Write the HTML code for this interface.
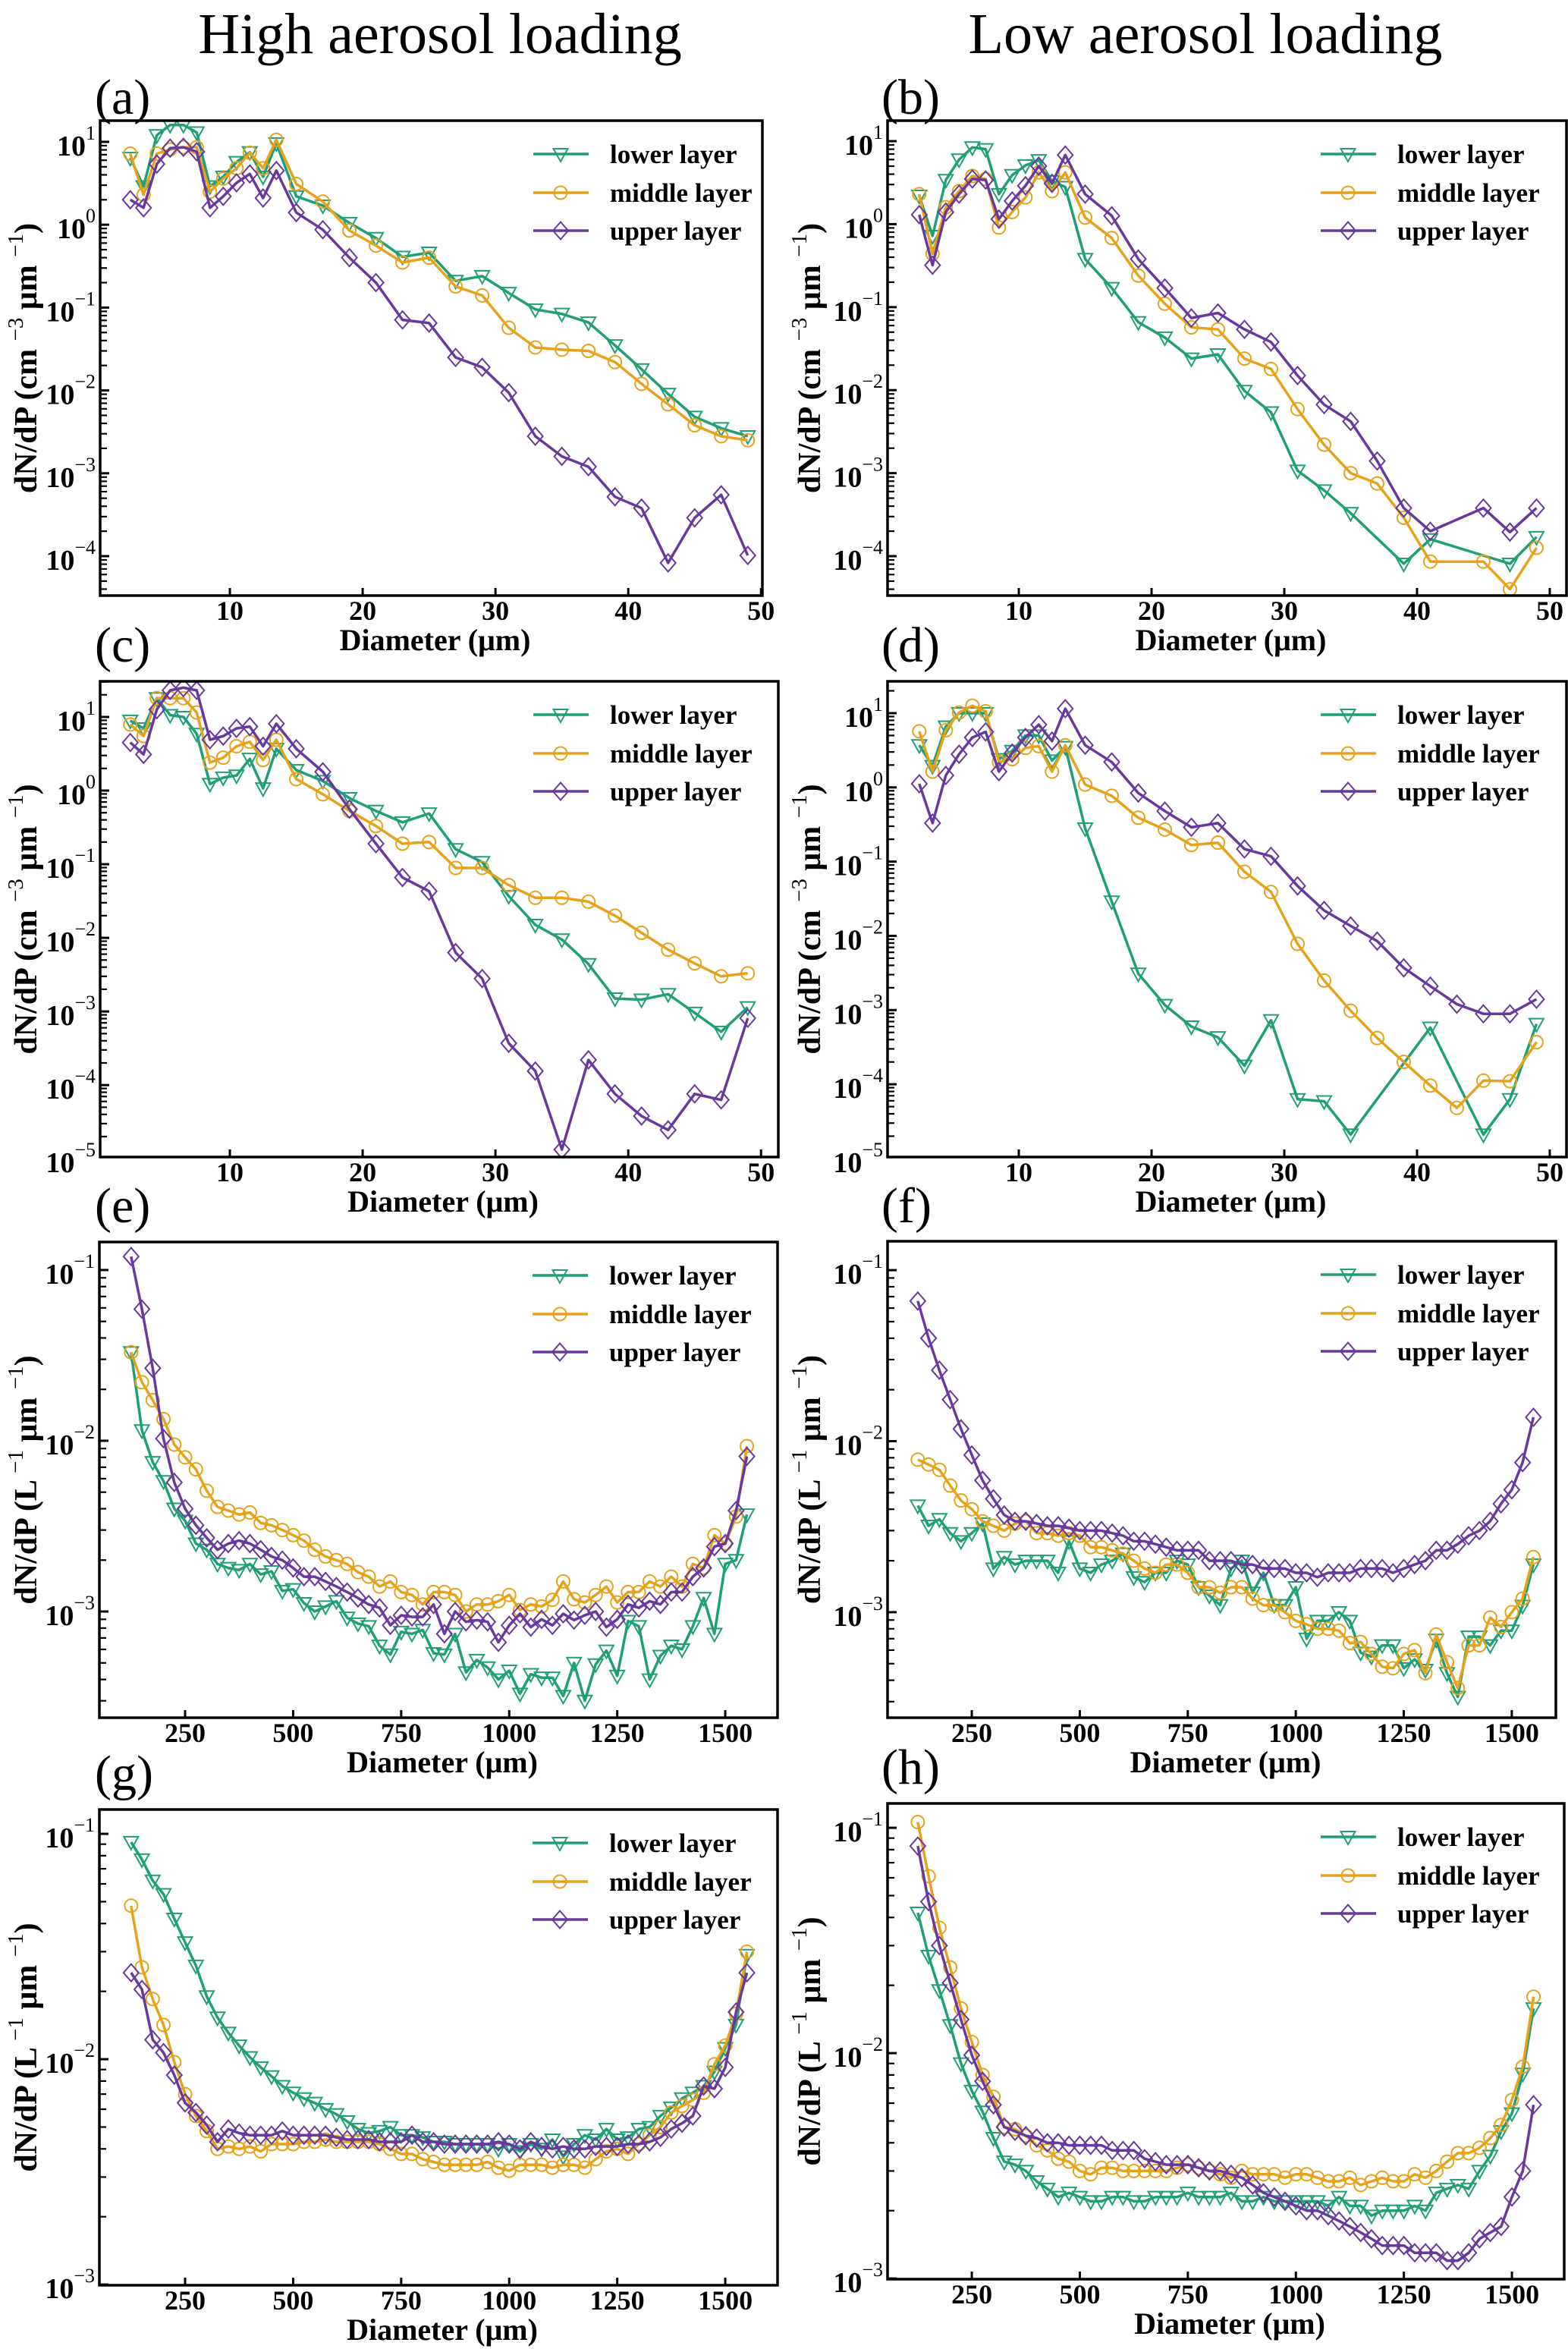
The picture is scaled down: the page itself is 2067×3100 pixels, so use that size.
<!DOCTYPE html>
<html><head><meta charset="utf-8">
<style>
html,body{margin:0;padding:0;background:#fff;}
svg{display:block;}
text{font-family:"Liberation Serif","DejaVu Serif",serif;}
</style></head>
<body>
<svg id="fig" xmlns="http://www.w3.org/2000/svg" width="2067" height="3100" viewBox="0 0 2067 3100">
<rect x="0" y="0" width="2067" height="3100" fill="#fff"/>
<text x="580" y="70" font-size="76" text-anchor="middle">High aerosol loading</text>
<text x="1589" y="70" font-size="76" text-anchor="middle">Low aerosol loading</text>
</svg>
<script>
// ---- data ----
const xSmall = [2.5,3.5,4.5,5.5,6.5,7.5,8.5,9.5,10.5,11.5,12.5,13.5,15,17,19,21,23,25,27,29,31,33,35,37,39,41,43,45,47,49];
const xLarge = [125,150,175,200,225,250,275,300,325,350,375,400,425,450,475,500,525,550,575,600,625,650,675,700,725,750,775,800,825,850,875,900,925,950,975,1000,1025,1050,1075,1100,1125,1150,1175,1200,1225,1250,1275,1300,1325,1350,1375,1400,1425,1450,1475,1500,1525,1550];
const xTicksSmall = [10,20,30,40,50];
const xTicksLarge = [250,500,750,1000,1250,1500];
const seriesNames = ["lower layer","middle layer","upper layer"];

const aLower = [6.4,2.9,12,16,16,13,2.9,3.8,5.7,7.5,3.8,9.6,2.2,1.7,1.05,0.69,0.41,0.46,0.21,0.24,0.15,0.095,0.084,0.066,0.035,0.018,0.0091,0.0048,0.0035,0.0028];
const aMiddle = [7.2,2.3,7.2,8.1,8.6,8.6,2.5,3.6,4.8,7.4,4.8,10.6,3.1,1.9,0.85,0.56,0.35,0.40,0.18,0.14,0.057,0.033,0.031,0.030,0.022,0.012,0.0068,0.0038,0.0028,0.0025];
const aUpper = [2.0,1.6,5.4,8.4,8.6,7.6,1.6,2.2,3.2,4.1,2.1,4.5,1.4,0.87,0.40,0.20,0.071,0.065,0.025,0.019,0.0094,0.0028,0.0016,0.0012,0.00052,0.00038,0.000083,0.00029,0.00055,0.000102];
const bLower = [2.2,0.72,3.4,6.0,8.4,8.0,2.3,3.9,5.1,5.9,3.3,2.8,0.38,0.17,0.066,0.043,0.024,0.027,0.0098,0.0054,0.00107,0.00062,0.00033,null,0.000081,0.00016,null,null,0.000081,0.00017];
const bMiddle = [2.3,0.44,1.6,2.5,3.8,3.5,0.91,1.4,2.1,4.2,2.5,4.2,1.2,0.68,0.24,0.11,0.057,0.054,0.024,0.018,0.0059,0.0022,0.0010,0.00075,0.00029,0.000086,null,0.000086,0.00004,0.000126];
const bUpper = [1.3,0.32,1.4,2.3,3.5,3.4,1.15,1.9,2.9,5.0,3.1,6.8,2.3,1.26,0.38,0.17,0.074,0.085,0.054,0.038,0.015,0.0067,0.0042,0.0014,0.00038,0.00020,null,0.00038,0.000195,0.00038];
const cLower = [8.9,7.0,18,10.6,10,5.9,1.23,1.5,1.6,2.7,1.07,3.7,1.9,1.35,0.79,0.53,0.37,0.49,0.16,0.107,0.037,0.015,0.0095,0.0044,0.0015,0.00145,0.00172,0.00096,0.00053,0.00114];
const cMiddle = [7.9,5.5,18,18,18,11.5,2.4,2.8,4.0,4.6,2.6,4.9,1.43,0.89,0.53,0.33,0.19,0.20,0.089,0.089,0.052,0.035,0.035,0.031,0.020,0.0117,0.0069,0.0045,0.0030,0.0033];
const cUpper = [4.5,3.1,12.6,23,25,23,4.9,5.5,7.0,7.4,4.0,8.1,3.7,1.8,0.56,0.19,0.066,0.043,0.0063,0.0028,0.00037,0.000155,0.0000133,0.00022,0.000076,0.000038,0.0000246,0.000076,0.000063,0.00081];
const dLower = [3.7,1.94,6.6,10,10,10,2.4,3.1,5.0,5.0,2.3,3.5,0.28,0.029,0.0031,0.00117,0.0006,0.00043,0.000178,0.00073,0.000063,0.000059,0.000021,null,null,0.00058,null,0.000021,0.000063,0.00065];
const dMiddle = [5.7,1.63,5.9,10.2,12.6,10.6,2.2,2.4,3.4,3.6,1.63,3.7,1.09,0.77,0.39,0.27,0.167,0.18,0.073,0.039,0.0078,0.0025,0.00098,0.00042,0.0002,0.000096,0.000048,0.000112,0.00011,0.00037];
const dUpper = [1.12,0.33,1.45,2.8,4.7,5.6,1.63,2.9,4.7,7.0,4.2,11.5,3.7,2.2,0.84,0.48,0.29,0.33,0.148,0.118,0.047,0.022,0.0136,0.0085,0.0037,0.0021,0.0012,0.00089,0.00089,0.0014];

const eLower = [0.033,0.0115,0.0075,0.0058,0.0040,0.0034,0.0025,0.0023,0.0019,0.0018,0.00175,0.0019,0.00165,0.00172,0.00132,0.00135,0.00112,0.00100,0.00107,0.00115,0.00092,0.00085,0.00082,0.00063,0.00056,0.00076,0.00074,0.00078,0.00057,0.00056,0.00074,0.00044,0.00052,0.00047,0.00040,0.00045,0.00033,0.00043,0.00041,0.00041,0.00032,0.0005,0.00030,0.00049,0.00059,0.00042,0.00088,0.00082,0.00040,0.00055,0.00063,0.00060,0.00082,0.0012,0.00074,0.0019,0.002,0.0037];
const eMiddle = [0.033,0.022,0.0173,0.0134,0.0095,0.008,0.0068,0.0051,0.0041,0.0039,0.0037,0.0038,0.0033,0.0032,0.003,0.0028,0.0026,0.0023,0.0021,0.002,0.0019,0.0017,0.0016,0.0014,0.0015,0.0013,0.00125,0.0011,0.0013,0.0013,0.00125,0.001,0.0011,0.0011,0.00115,0.00125,0.00102,0.0011,0.00107,0.00117,0.0015,0.00118,0.00113,0.00125,0.0014,0.00113,0.0013,0.0013,0.0015,0.0014,0.0016,0.0014,0.0019,0.0018,0.0028,0.0025,0.0036,0.0093];
const eUpper = [0.12,0.059,0.0266,0.0103,0.0057,0.004,0.0032,0.0027,0.0023,0.0025,0.0026,0.0025,0.0023,0.0021,0.002,0.0018,0.0016,0.0016,0.0015,0.0014,0.0013,0.0012,0.0011,0.00105,0.00083,0.00095,0.00093,0.00093,0.0011,0.00074,0.001,0.00087,0.00089,0.00087,0.00066,0.00083,0.00097,0.00081,0.0009,0.00083,0.00097,0.00089,0.00095,0.001,0.00081,0.0009,0.0011,0.00105,0.00115,0.0011,0.0013,0.0013,0.0016,0.0018,0.0024,0.0025,0.0039,0.0081];
const fLower = [0.0042,0.0032,0.0035,0.0029,0.0026,0.0029,0.0033,0.0018,0.0021,0.0019,0.002,0.002,0.002,0.0017,0.0026,0.0018,0.0017,0.0019,0.002,0.0022,0.0016,0.0015,0.0017,0.0017,0.002,0.0019,0.0014,0.00125,0.0011,0.0018,0.002,0.0013,0.0017,0.0011,0.0011,0.0014,0.0007,0.00089,0.00089,0.001,0.00089,0.00058,0.00055,0.00064,0.00064,0.00047,0.00053,0.00046,0.00069,0.00044,0.00032,0.00072,0.00072,0.00064,0.00078,0.00078,0.00109,0.0019];
const fMiddle = [0.0078,0.0073,0.0068,0.0055,0.0045,0.004,0.0034,0.0032,0.003,0.0033,0.0034,0.0029,0.0029,0.0028,0.0029,0.0028,0.0024,0.0024,0.0023,0.0022,0.002,0.0018,0.0017,0.0019,0.0019,0.0017,0.0014,0.0014,0.0013,0.0014,0.0014,0.0012,0.0011,0.0011,0.001,0.00089,0.00085,0.0008,0.0008,0.00078,0.00066,0.00067,0.00057,0.00048,0.00047,0.00057,0.0006,0.00044,0.00074,0.00051,0.00036,0.00064,0.00064,0.00093,0.00082,0.001,0.0012,0.0021];
const fUpper = [0.066,0.04,0.026,0.0175,0.0118,0.0083,0.0059,0.0046,0.0037,0.0034,0.0034,0.0033,0.0032,0.0032,0.0031,0.003,0.003,0.003,0.0029,0.0028,0.0026,0.0026,0.0025,0.0024,0.0023,0.0023,0.0023,0.002,0.002,0.002,0.0019,0.0019,0.0018,0.0018,0.0018,0.0017,0.0017,0.0016,0.0017,0.0017,0.0017,0.0018,0.0018,0.0018,0.0017,0.0018,0.0019,0.002,0.0023,0.0023,0.0025,0.0028,0.003,0.0034,0.0043,0.0052,0.0075,0.0138];
const gLower = [0.092,0.077,0.062,0.054,0.042,0.033,0.026,0.019,0.0153,0.0131,0.0115,0.0102,0.0092,0.0084,0.0076,0.0071,0.0067,0.0064,0.006,0.0057,0.0053,0.0049,0.0047,0.0048,0.005,0.0046,0.0046,0.0045,0.0043,0.0043,0.0042,0.0042,0.0042,0.0042,0.004,0.0042,0.0039,0.0042,0.004,0.0044,0.0037,0.0042,0.0046,0.0044,0.0049,0.0044,0.0045,0.0049,0.005,0.0056,0.0061,0.0067,0.0071,0.0076,0.0088,0.0112,0.0142,0.029];
const gMiddle = [0.048,0.0256,0.0185,0.0142,0.0097,0.007,0.0056,0.0048,0.004,0.0041,0.004,0.0041,0.0039,0.0042,0.0042,0.0042,0.0043,0.0043,0.0044,0.0043,0.0043,0.0043,0.0043,0.0042,0.004,0.0038,0.0038,0.0036,0.0035,0.0034,0.0034,0.0034,0.0034,0.0035,0.0033,0.0032,0.0034,0.0034,0.0034,0.0033,0.0034,0.0034,0.0033,0.0036,0.0039,0.004,0.0038,0.0042,0.0046,0.005,0.0058,0.0062,0.0066,0.0071,0.0095,0.0115,0.0159,0.030];
const gUpper = [0.0242,0.0204,0.0122,0.0107,0.0085,0.0064,0.0058,0.0051,0.0043,0.0049,0.0047,0.0046,0.0046,0.0046,0.0048,0.0046,0.0046,0.0046,0.0046,0.0045,0.0044,0.0044,0.0044,0.0043,0.0043,0.0043,0.0046,0.0043,0.0043,0.0042,0.0042,0.0042,0.0042,0.0042,0.0043,0.0042,0.004,0.0043,0.0041,0.004,0.0041,0.004,0.004,0.0041,0.0041,0.0041,0.0042,0.0042,0.0043,0.0045,0.0049,0.0052,0.0056,0.0076,0.0074,0.0092,0.0162,0.0242];
const hLower = [0.042,0.027,0.019,0.0133,0.009,0.0068,0.0055,0.0042,0.0033,0.0032,0.003,0.0027,0.0025,0.0023,0.0024,0.0023,0.0022,0.0022,0.0023,0.0023,0.0022,0.0022,0.0023,0.0023,0.0023,0.0024,0.0023,0.0023,0.0023,0.0024,0.0022,0.0022,0.0023,0.0022,0.0022,0.0022,0.0022,0.0022,0.0021,0.0023,0.0021,0.0021,0.0019,0.002,0.002,0.002,0.0021,0.002,0.0024,0.0025,0.0026,0.0025,0.003,0.0035,0.0045,0.0054,0.0081,0.0158];
const hMiddle = [0.106,0.061,0.036,0.024,0.0158,0.0112,0.008,0.0064,0.0047,0.0046,0.0043,0.0039,0.0037,0.0034,0.0033,0.003,0.0029,0.0031,0.0031,0.003,0.003,0.003,0.003,0.003,0.0031,0.0032,0.0031,0.003,0.0029,0.0028,0.003,0.0029,0.0029,0.0029,0.0028,0.0029,0.0029,0.0028,0.0027,0.0027,0.0028,0.0026,0.0027,0.0028,0.0027,0.0027,0.0029,0.0028,0.003,0.0033,0.0036,0.0036,0.0038,0.0042,0.0048,0.0062,0.0087,0.0178];
const hUpper = [0.083,0.047,0.03,0.0205,0.0141,0.0098,0.0075,0.0059,0.0047,0.0045,0.0043,0.0042,0.004,0.004,0.0039,0.0039,0.0039,0.0039,0.0037,0.0037,0.0037,0.0034,0.0033,0.0032,0.0032,0.0032,0.0031,0.003,0.003,0.0029,0.0028,0.0026,0.0024,0.0023,0.0022,0.0021,0.002,0.002,0.0019,0.0018,0.0017,0.0016,0.0015,0.0014,0.0014,0.0014,0.0013,0.0013,0.0013,0.0012,0.0012,0.0013,0.0015,0.0016,0.0017,0.0023,0.003,0.0059];

const yExpA = [1,0,-1,-2,-3,-4];
const yExpC = [1,0,-1,-2,-3,-4,-5];
const yExpE = [-1,-2,-3];

// ---- layout (not data) ----
const COLORS = ["#1f9e78","#e6a21a","#68389c"];
const MARKERS = ["tri","circ","diam"];
const panels = [
 {id:"a",L:132,R:1005,T:159,B:785,x0:0.23,x1:50.1,yTop:1.256,yBot:-4.476,xs:xSmall,xt:xTicksSmall,ye:yExpA,unit:"cm",ue:"−3",data:[aLower,aMiddle,aUpper],lx:125,ly:150,yl:33},
 {id:"b",L:1170,R:2065,T:159,B:785,x0:0.11,x1:51.26,yTop:1.247,yBot:-4.475,xs:xSmall,xt:xTicksSmall,ye:yExpA,unit:"cm",ue:"−3",data:[bLower,bMiddle,bUpper],lx:1162,ly:150,yl:1066},
 {id:"c",L:132,R:1026,T:898,B:1525,x0:0.23,x1:51.3,yTop:1.484,yBot:-4.977,xs:xSmall,xt:xTicksSmall,ye:yExpC,unit:"cm",ue:"−3",data:[cLower,cMiddle,cUpper],lx:125,ly:872,yl:33},
 {id:"d",L:1170,R:2065,T:898,B:1525,x0:0.11,x1:51.26,yTop:1.429,yBot:-4.98,xs:xSmall,xt:xTicksSmall,ye:yExpC,unit:"cm",ue:"−3",data:[dLower,dMiddle,dUpper],lx:1162,ly:872,yl:1066},
 {id:"e",L:131,R:1025,T:1637,B:2264,x0:51.6,x1:1621,yTop:-0.836,yBot:-3.622,xs:xLarge,xt:xTicksLarge,ye:yExpE,unit:"L",ue:"−1",data:[eLower,eMiddle,eUpper],lx:125,ly:1611,yl:33},
 {id:"f",L:1170,R:2051,T:1636,B:2264,x0:55,x1:1602,yTop:-0.831,yBot:-3.617,xs:xLarge,xt:xTicksLarge,ye:yExpE,unit:"L",ue:"−1",data:[fLower,fMiddle,fUpper],lx:1162,ly:1611,yl:1066},
 {id:"g",L:131,R:1025,T:2385,B:3012,x0:51.6,x1:1621,yTop:-0.892,yBot:-3.003,xs:xLarge,xt:xTicksLarge,ye:yExpE,unit:"L",ue:"−1",data:[gLower,gMiddle,gUpper],lx:125,ly:2359,yl:33},
 {id:"h",L:1170,R:2062,T:2377,B:3004,x0:55,x1:1621,yTop:-0.892,yBot:-3.003,xs:xLarge,xt:xTicksLarge,ye:yExpE,unit:"L",ue:"−1",data:[hLower,hMiddle,hUpper],lx:1162,ly:2351,yl:1066}
];

const NS = "http://www.w3.org/2000/svg";
const svg = document.getElementById("fig");
function mk(tag, attrs, parent){
  const e = document.createElementNS(NS, tag);
  for (const k in attrs) e.setAttribute(k, attrs[k]);
  (parent||svg).appendChild(e);
  return e;
}
function marker(g, type, cx, cy, color){
  let m;
  if (type === "tri") {
    m = mk("polygon",{points:`${cx-9.5},${cy-7} ${cx+9.5},${cy-7} ${cx},${cy+10}`,fill:"none",stroke:color,"stroke-width":2},g);
  } else if (type === "circ") {
    m = mk("circle",{cx:cx,cy:cy,r:8.5,fill:"none",stroke:color,"stroke-width":2},g);
  } else {
    m = mk("polygon",{points:`${cx},${cy-11.5} ${cx+10},${cy} ${cx},${cy+11.5} ${cx-10},${cy}`,fill:"none",stroke:color,"stroke-width":2},g);
  }
  return m;
}

panels.forEach(p => {
  const g = mk("g",{});
  
  
  const X = v => p.L + (v - p.x0) / (p.x1 - p.x0) * (p.R - p.L);
  const Y = v => p.T + (p.yTop - Math.log10(v)) / (p.yTop - p.yBot) * (p.B - p.T);
  const YL = lv => p.T + (p.yTop - lv) / (p.yTop - p.yBot) * (p.B - p.T);

  const lt = mk("text",{x:p.lx,y:p.ly,"font-size":66},g);
  lt.textContent = "(" + p.id + ")";
  
  

  const cp = mk("clipPath",{id:"clip-"+p.id},g);
  mk("rect",{x:p.L,y:p.T,width:p.R-p.L,height:p.B-p.T},cp);

  p.data.forEach((arr, si) => {
    const sg = mk("g",{"clip-path":`url(#clip-${p.id})`},g);
    
    
    const pts = [];
    arr.forEach((v, i) => { if (v !== null && v !== undefined) pts.push([X(p.xs[i]), Y(v)]); });
    const ln = mk("polyline",{points:pts.map(q=>q[0].toFixed(1)+","+q[1].toFixed(1)).join(" "),fill:"none",stroke:COLORS[si],"stroke-width":3.5,"stroke-linejoin":"round"},sg);
    
    
    pts.forEach(q => {
      const m = marker(sg, MARKERS[si], q[0], q[1], COLORS[si]);
      
      
    });
  });

  const fr = mk("rect",{x:p.L,y:p.T,width:p.R-p.L,height:p.B-p.T,fill:"none",stroke:"#000","stroke-width":3.5},g);
  
  

  const lo = Math.floor(p.yBot), hi = Math.ceil(p.yTop);
  for (let d = lo; d <= hi; d++) {
    for (let k = 1; k <= 9; k++) {
      const lv = d + Math.log10(k);
      if (lv < p.yBot || lv > p.yTop) continue;
      const yy = YL(lv);
      const tk = mk("line",{x1:p.L,x2:p.L+(k===1?12:9),y1:yy,y2:yy,stroke:"#000","stroke-width":k===1?3:2.2},g);
      
      
    }
  }
  p.ye.forEach(e => {
    const yy = YL(e);
    const t = mk("text",{x:p.L-6,y:yy+18,"font-size":38,"font-weight":"bold","text-anchor":"end"},g);
    
    
    const b = mk("tspan",{},t); b.textContent = "10";
    const s = mk("tspan",{dy:-21,"font-size":26,"font-weight":"normal"},t);
    s.textContent = (e < 0 ? "−" : "") + Math.abs(e);
  });

  p.xt.forEach(v => {
    const xx = X(v);
    const tk = mk("line",{x1:xx,x2:xx,y1:p.B,y2:p.B-10,stroke:"#000","stroke-width":3},g);
    
    
    const t = mk("text",{x:xx,y:p.B+32,"font-size":36,"font-weight":"bold","text-anchor":"middle"},g);
    t.textContent = String(v);
    
    
  });

  const xtit = mk("text",{x:(p.L+p.R)/2 + 5,y:p.B+72,"font-size":40,"font-weight":"bold","text-anchor":"middle"},g);
  xtit.textContent = "Diameter (μm)";
  
  

  const cy = (p.T + p.B) / 2;
  const yt = mk("text",{x:0,y:0,"font-size":42,"font-weight":"bold","text-anchor":"middle",transform:`translate(${p.yl+15},${cy}) rotate(-90)`},g);
  
  
  const t1 = mk("tspan",{},yt); t1.textContent = "dN/dP (" + p.unit + " ";
  const t2 = mk("tspan",{dy:-18,"font-size":29,"font-weight":"normal"},yt); t2.textContent = p.ue;
  const t3 = mk("tspan",{dy:18},yt); t3.textContent = " μm ";
  const t4 = mk("tspan",{dy:-18,"font-size":29,"font-weight":"normal"},yt); t4.textContent = "−1";
  const t5 = mk("tspan",{dy:18},yt); t5.textContent = ")";

  const lg = mk("g",{},g);
  
  
  const rows = [44, 95, 145];
  seriesNames.forEach((nm, si) => {
    const ry = p.T + rows[si];
    const eg = mk("g",{},lg);
    
    
    mk("line",{x1:p.L+571,x2:p.L+644,y1:ry,y2:ry,stroke:COLORS[si],"stroke-width":3.5},eg);
    marker(eg, MARKERS[si], p.L+607, ry, COLORS[si]);
    const tx = mk("text",{x:p.L+672,y:ry+12,"font-size":35,"font-weight":"bold"},eg);
    tx.textContent = nm;
  });
});
</script>
</body></html>
